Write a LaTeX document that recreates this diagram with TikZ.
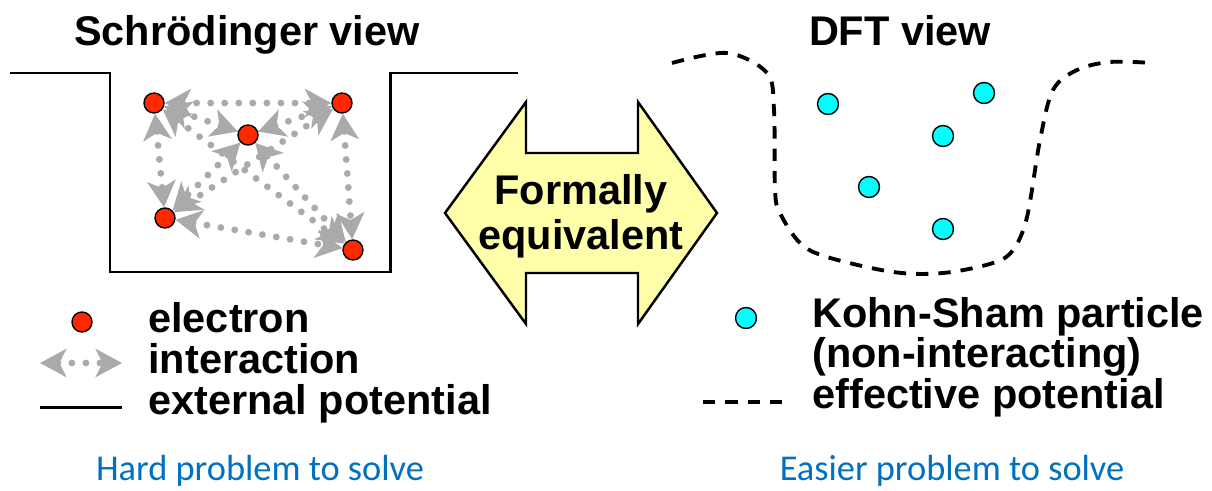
\documentclass[tikz,border=0pt]{standalone}
\usepackage{fontspec}
\setmainfont{Liberation Sans}
\newfontfamily\notefont{Carlito}
\usetikzlibrary{arrows.meta}

\definecolor{elecred}{RGB}{255,40,0}
\definecolor{kscyan}{RGB}{0,255,255}
\definecolor{intgray}{RGB}{170,170,170}
\definecolor{eqyellow}{RGB}{255,255,170}
\definecolor{noteblue}{RGB}{0,112,192}

\begin{document}
\begin{tikzpicture}[x=0.02cm, y=-0.02cm,
    electron/.style={circle, draw, fill=elecred, line width=0.8pt, minimum size=0.4cm, inner sep=0pt},
    kspart/.style={circle, draw, fill=kscyan, line width=0.8pt, minimum size=0.42cm, inner sep=0pt},
    interact/.style={{Stealth[length=15pt, width=16pt, inset=4pt]}-{Stealth[length=15pt, width=16pt, inset=4pt]}, draw=intgray, line width=3.9pt, line cap=round, dash pattern=on 0pt off 8pt},
    extpot/.style={line width=1.7pt},
    effpot/.style={line width=2.2pt, dash pattern=on 7pt off 5.7pt},
    bigtext/.style={inner sep=0pt, font=\bfseries\fontsize{23.6}{25}\selectfont},
    legtext/.style={bigtext, anchor=base west},
    note/.style={inner sep=0pt, anchor=base, text=noteblue, font=\notefont\fontsize{20.7}{24}\selectfont}]

\useasboundingbox (0,0) rectangle (1212,490);

% Titles
\node[bigtext, anchor=base] (schtitle) at (247,45) {Schrödinger view};
\node[bigtext, anchor=base] (dfttitle) at (900,45) {DFT view};

% External potential
\draw[extpot] (10,73) -- (110,73) -- (110,272) -- (390,272) -- (390,73) -- (518,73);

% Electrons
\node[electron] (ea) at (154,103) {};
\node[electron] (eb) at (342,103) {};
\node[electron] (ec) at (248,135) {};
\node[electron] (ed) at (165,218) {};
\node[electron] (ee) at (353,250) {};

% Interactions
\foreach \a/\b in {ea/eb, ea/ec, ea/ed, ea/ee, eb/ec, eb/ed, eb/ee, ec/ed, ec/ee, ed/ee}
  \draw[interact] (\a) -- (\b);

% Formally equivalent
\draw[line width=1.4pt, fill=eqyellow, line join=miter]
  (445,213) -- (526,102) -- (526,153) -- (638,153) -- (638,102) -- (717,213)
  -- (638,324) -- (638,273) -- (526,273) -- (526,324) -- cycle;
\node[bigtext, align=center, font=\bfseries\fontsize{23.6}{25.5}\selectfont] (equiv) at (581,216) {Formally\\equivalent};

% Effective potential
\draw[effpot] plot[smooth, tension=0.55] coordinates {(672,63) (727,53) (767,73) (774,110) (775,190) (780,213) (800,243) (827,257) (893,272) (943,273) (993,263) (1013,250) (1027,217) (1040,140) (1053,90) (1077,70) (1110,62) (1153,63)};

% Kohn-Sham particles
\node[kspart] (ka) at (828,104) {};
\node[kspart] (kb) at (984,93) {};
\node[kspart] (kc) at (943,136) {};
\node[kspart] (kd) at (869,187) {};
\node[kspart] (ke) at (943,229) {};

% Left legend
\node[electron] (legelec) at (82,322) {};
\node[legtext] (elec) at (148,332) {electron};
\coordinate (il) at (40,363);
\coordinate (ir) at (122,363);
\draw[interact] (il) -- (ir);
\node[legtext] (inter) at (148,373) {interaction};
\coordinate (xl) at (40,407);
\coordinate (xr) at (122,407);
\draw[extpot] (xl) -- (xr);
\node[legtext] (ext) at (148,414) {external potential};

% Right legend
\node[kspart] (legks) at (746,318) {};
\node[legtext] (ks) at (812,327) {Kohn-Sham particle};
\node[legtext] (nonint) at (812,367) {(non-interacting)};
\coordinate (fl) at (703,402);
\coordinate (fr) at (788,402);
\draw[effpot] (fl) -- (fr);
\node[legtext] (eff) at (812,408) {effective potential};

% Notes
\node[note] (hard) at (260,480) {Hard problem to solve};
\node[note] (easy) at (952,480) {Easier problem to solve};

\end{tikzpicture}
\end{document}
